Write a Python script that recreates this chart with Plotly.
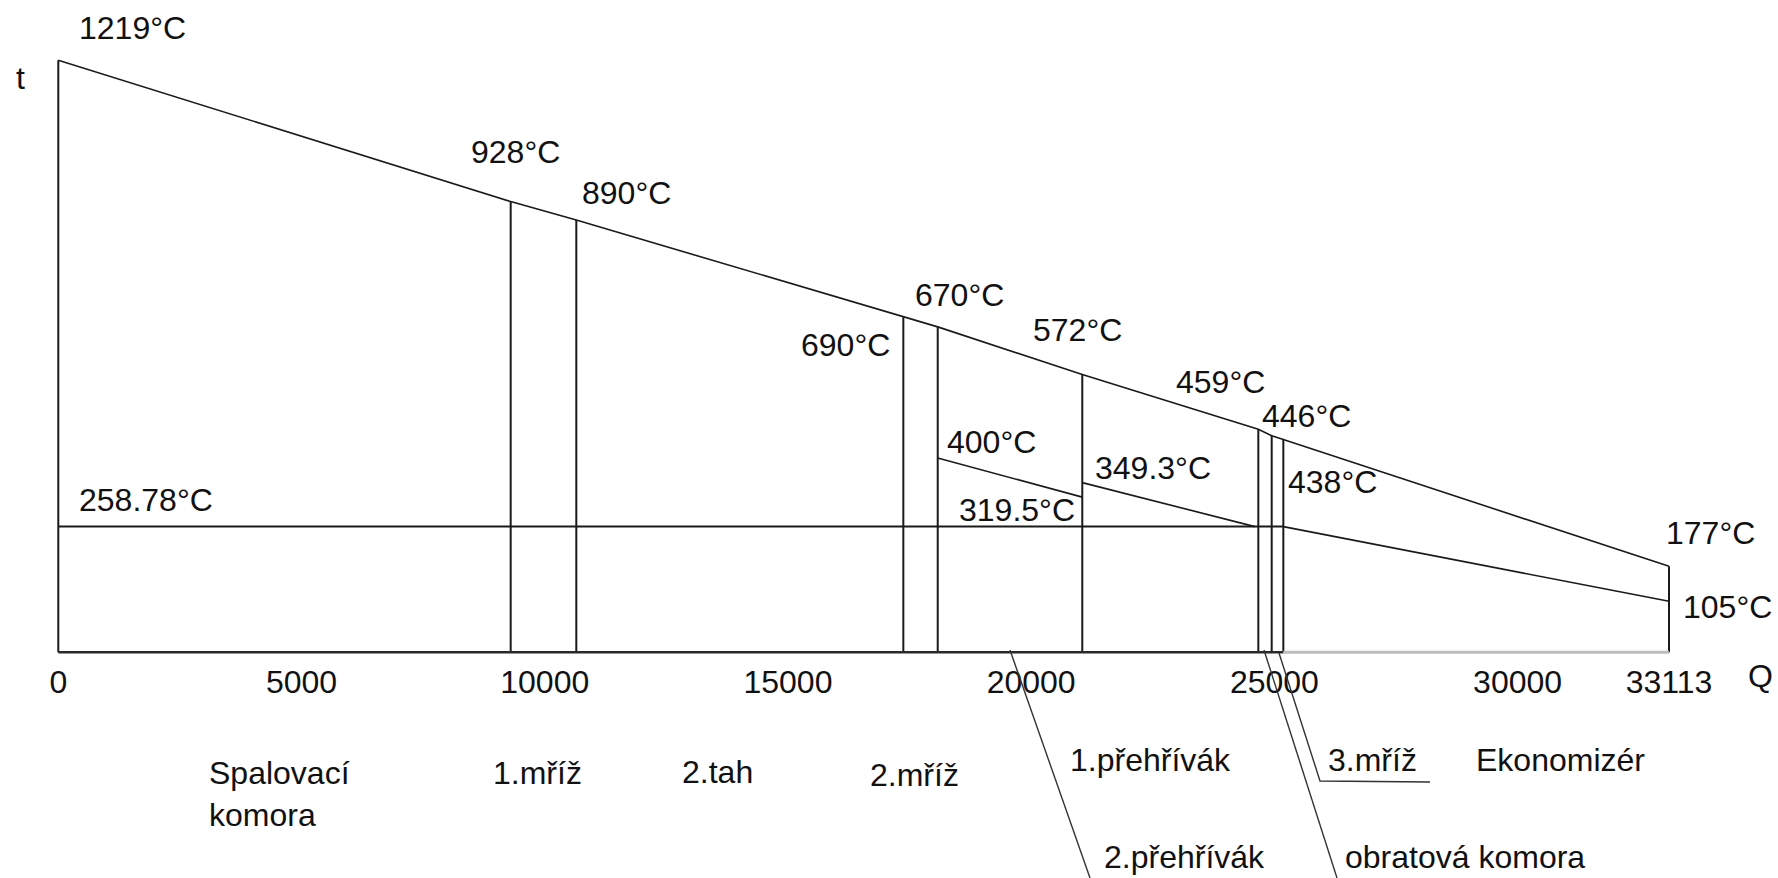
import plotly.graph_objects as go

# ---- data: heat released Q vs. flue-gas / steam temperature t ----
# section boundaries along Q and gas temperature at each boundary
q_bounds = [0, 9300, 10649, 17372, 18079, 21051, 24670, 24945, 25184, 33113]
t_gas = [1219, 928, 890, 690, 670, 572, 459, 446, 438, 177]

# saturation temperature of the boiler water
t_sat = 258.78

# steam / water side segments
sh1_q = [18079, 21051]          # 1st superheater
sh1_t = [400, 319.5]
sh2_q = [21051, 24600]          # 2nd superheater
sh2_t = [349.3, 258.78]
eco_q = [25184, 33113]          # economizer
eco_t = [258.78, 105]

q_ticks = [0, 5000, 10000, 15000, 20000, 25000, 30000, 33113]

section_names = ["Spalovací", "komora", "1.mříž", "2.tah", "2.mříž", "1.přehřívák",
                 "3.mříž", "Ekonomizér", "2.přehřívák", "obratová komora"]

# ---- canvas geometry ----
W, H = 1778, 878
X0_PX, PX_PER_Q = 58.3, 0.048643
Y0_PX, PX_PER_T = 652.3, 0.4857
x_range = [-X0_PX / PX_PER_Q, (W - X0_PX) / PX_PER_Q]
y_range = [-(H - Y0_PX) / PX_PER_T, Y0_PX / PX_PER_T]

FONT = "Liberation Sans, Arial, sans-serif"
FS = 32
INK = "#111111"


def px(x, y):
    """pixel position -> paper coordinates"""
    return x / W, 1 - y / H


fig = go.Figure()
line_dark = dict(color="#1a1a1a", width=1.6)
line_vert = dict(color="#1a1a1a", width=2)

# flue-gas temperature line
fig.add_trace(go.Scatter(x=q_bounds, y=t_gas, mode="lines", line=line_dark,
                         hoverinfo="skip", showlegend=False))

# vertical section boundaries
for q, t in zip(q_bounds, t_gas):
    fig.add_trace(go.Scatter(x=[q, q], y=[0, t], mode="lines", line=line_vert,
                             hoverinfo="skip", showlegend=False))

# saturation line
fig.add_trace(go.Scatter(x=[q_bounds[0], q_bounds[8]], y=[t_sat, t_sat], mode="lines",
                         line=line_vert, hoverinfo="skip", showlegend=False))

# steam / water side
for qs, ts in ((sh1_q, sh1_t), (sh2_q, sh2_t), (eco_q, eco_t)):
    fig.add_trace(go.Scatter(x=qs, y=ts, mode="lines", line=line_dark,
                             hoverinfo="skip", showlegend=False))

# baseline (dark up to the economizer, grey under it)
fig.add_trace(go.Scatter(x=[q_bounds[0], q_bounds[8]], y=[0, 0], mode="lines",
                         line=dict(color="#2a2a2a", width=2.4), hoverinfo="skip",
                         showlegend=False))
fig.add_trace(go.Scatter(x=[q_bounds[8], q_bounds[-1]], y=[0, 0], mode="lines",
                         line=dict(color="#bcbcbc", width=3), hoverinfo="skip",
                         showlegend=False))

# ---- temperature labels (x/y shift in px relative to the point) ----
label_points = list(zip(q_bounds, t_gas)) + [
    (sh1_q[0], sh1_t[0]), (sh1_q[1], sh1_t[1]), (sh2_q[0], sh2_t[0]),
    (0, t_sat), (eco_q[1], eco_t[1])]
offsets = {
    1219: (74, 32), 928: (5, 50), 890: (50, 27), 690: (-58, -28), 670: (22, 32),
    572: (-5, 44), 459: (-38, 47), 446: (35, 20), 438: (49, -42), 177: (41, 33),
    400: (54, 16), 319.5: (-65, -13), 349.3: (71, 15), 258.78: (88, 27), 105: (58, -6),
}
for q, t in label_points:
    dx, dy = offsets[t]
    fig.add_annotation(x=q, y=t, xref="x", yref="y", text=f"{t:g}°C", showarrow=False,
                       xshift=dx, yshift=dy, xanchor="center", yanchor="middle",
                       font=dict(family=FONT, size=FS, color=INK))

# axis letters
for txt, (x, y) in (("t", (20, 78)), ("Q", (1760, 676))):
    xp, yp = px(x, y)
    fig.add_annotation(x=xp, y=yp, xref="paper", yref="paper", text=txt, showarrow=False,
                       xanchor="center", yanchor="middle",
                       font=dict(family=FONT, size=FS, color=INK))

# section names below the axis (left edge, vertical centre in px)
name_pos = [(207, 773), (207, 815), (491, 773), (680, 772), (868, 775), (1068, 760),
            (1326, 760), (1474, 760), (1102, 857), (1343, 857)]
for name, (x, y) in zip(section_names, name_pos):
    xp, yp = px(x, y)
    fig.add_annotation(x=xp, y=yp, xref="paper", yref="paper", text=name, showarrow=False,
                       xanchor="left", yanchor="middle", align="left",
                       font=dict(family=FONT, size=FS, color=INK))

# leader lines to the narrow sections
leaders = [
    [(1010, 650), (1090, 878)],
    [(1264, 650), (1337, 878)],
    [(1279, 653), (1320, 781), (1430, 782)],
]
for pts in leaders:
    path = ""
    for i, (x, y) in enumerate(pts):
        xp, yp = px(x, y)
        path += ("M" if i == 0 else " L") + f" {xp:.5f},{yp:.5f}"
    fig.add_shape(type="path", path=path, xref="paper", yref="paper",
                  line=dict(color="#333333", width=1.4))

fig.update_layout(
    width=W, height=H, margin=dict(l=0, r=0, t=0, b=0),
    paper_bgcolor="white", plot_bgcolor="white",
    xaxis=dict(range=x_range, anchor="free", position=(H - Y0_PX) / H,
               showgrid=False, zeroline=False, showline=False, ticks="",
               ticklabelstandoff=8,
               tickvals=q_ticks, ticktext=[str(v) for v in q_ticks],
               tickfont=dict(family=FONT, size=FS, color=INK), fixedrange=True),
    yaxis=dict(range=y_range, visible=False, fixedrange=True),
    font=dict(family=FONT, color=INK),
)

fig.write_html("out.html")
